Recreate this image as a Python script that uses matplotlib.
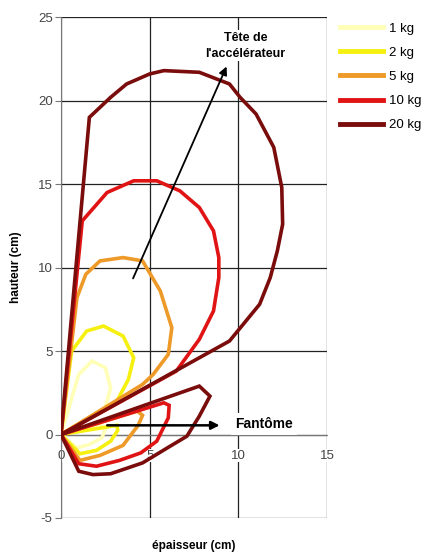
import matplotlib
matplotlib.use("Agg")
import matplotlib.pyplot as plt

plt.rcParams['font.family'] = ['Liberation Sans', 'DejaVu Sans']
plt.rcParams['axes.unicode_minus'] = False

labels = ["1 kg", "2 kg", "5 kg", "10 kg", "20 kg"]
colors = ["#FFFFB8", "#F5F010", "#EE9A28", "#E01414", "#7A0C0C"]

x_1kg = [0, 1.0, 1.75, 2.5, 2.8, 2.5, 0, 2.2, 2.5, 2.3, 1.6, 0.9, 0]
y_1kg = [0, 3.6, 4.4, 4.0, 2.8, 1.6, 0, 0.6, 0.3, -0.2, -0.6, -0.8, 0]

x_2kg = [0, 0.6, 1.45, 2.4, 3.5, 4.1, 3.8, 3.15, 0, 3.15, 3.2, 2.8, 2.0, 1.07, 0]
y_2kg = [0, 5.0, 6.2, 6.5, 5.9, 4.6, 3.3, 2.0, 0, 0.55, 0.25, -0.4, -0.95, -1.15, 0]

x_5kg = [0, 0.9, 1.4, 2.2, 3.5, 4.6, 5.6, 6.25, 6.05, 5.2, 4.6, 0, 4.3, 4.6, 4.35, 3.5, 2.2, 1.07, 0]
y_5kg = [0, 8.2, 9.6, 10.4, 10.6, 10.4, 8.6, 6.4, 4.8, 3.6, 3.0, 0, 1.4, 1.15, 0.55, -0.65, -1.25, -1.55, 0]

x_10kg = [0, 1.2, 2.6, 4.1, 5.4, 6.7, 7.8, 8.6, 8.9, 8.9, 8.6, 7.8, 6.5, 0, 5.8, 6.1, 6.05, 5.4, 4.5, 3.3, 2.0, 1.0, 0]
y_10kg = [0, 12.8, 14.5, 15.2, 15.2, 14.6, 13.6, 12.2, 10.6, 9.4, 7.4, 5.7, 3.8, 0, 1.9, 1.75, 1.0, -0.4, -1.1, -1.55, -1.9, -1.75, 0]

x_20kg = [0, 1.6, 2.8, 3.7, 5.0, 5.8, 7.8, 9.5, 10.1, 11.0, 12.0, 12.45, 12.5, 12.2, 11.8, 11.2, 9.5, 0,
          7.8, 8.4, 7.8, 7.1, 6.0, 4.6, 2.8, 1.8, 1.0, 0]
y_20kg = [0, 19.0, 20.2, 21.0, 21.6, 21.8, 21.7, 21.0, 20.2, 19.2, 17.2, 14.8, 12.6, 11.0, 9.4, 7.8, 5.6, 0,
          2.9, 2.3, 1.1, -0.1, -0.8, -1.7, -2.35, -2.4, -2.2, 0]

xs = [x_1kg, x_2kg, x_5kg, x_10kg, x_20kg]
ys = [y_1kg, y_2kg, y_5kg, y_10kg, y_20kg]

x_ticks = [0, 5, 10, 15]
y_ticks = [-5, 0, 5, 10, 15, 20, 25]

fig = plt.figure(figsize=(4.28, 5.55), dpi=100)
ax = fig.add_axes([0.1425, 0.0667, 0.6215, 0.9023])

for x, y, c, l in zip(xs, ys, colors, labels):
    ax.plot(x, y, color=c, lw=2.6, label=l, solid_joinstyle='miter', zorder=3)

ax.set_xlim(0, 15)
ax.set_ylim(-5, 25)
ax.set_xticks(x_ticks)
ax.set_yticks(y_ticks)
ax.grid(True, color='#222222', lw=0.9, zorder=0)
ax.set_axisbelow(True)

for s in ['top', 'right']:
    ax.spines[s].set_visible(False)
ax.spines['bottom'].set_position(('data', 0))
ax.spines['bottom'].set_color('#777777')
ax.spines['left'].set_color('#777777')
ax.spines['bottom'].set_zorder(1)

ax.tick_params(axis='y', direction='out', length=4, color='#777777', labelsize=9.5, labelcolor='#444444', pad=2)
ax.tick_params(axis='x', direction='out', length=0, labelsize=9.5, labelcolor='#444444', pad=11)
for t in ax.get_xticklabels():
    t.set_bbox(dict(facecolor='white', edgecolor='none', pad=0.5))

ax.set_ylabel("hauteur (cm)", fontsize=8.5, fontweight='bold', labelpad=18)
ax.yaxis.set_label_coords(-0.145, 0.5)
ax.text(7.5, -6.65, "épaisseur (cm)", fontsize=8.5, fontweight='bold', ha='center', va='center', clip_on=False)

# arrows
ax.annotate("", xy=(9.4, 22.2), xytext=(4.0, 9.2),
            arrowprops=dict(arrowstyle='-|>', color='black', lw=1.3, mutation_scale=12), zorder=5)
ax.annotate("", xy=(9.1, 0.55), xytext=(2.45, 0.55),
            arrowprops=dict(arrowstyle='-|>', color='black', lw=1.8, mutation_scale=12), zorder=5)

ax.text(10.4, 23.3, "Tête de\nl'accélérateur", fontsize=9, fontweight='bold', ha='center', va='center',
        linespacing=1.45, bbox=dict(facecolor='white', edgecolor='none', pad=1), zorder=6)
ax.text(9.8, 0.65, "Fantôme", fontsize=10, fontweight='bold', ha='left', va='center',
        bbox=dict(facecolor='white', edgecolor='none', pad=3), zorder=6)

leg = ax.legend(loc='upper left', bbox_to_anchor=(1.018, 1.005), frameon=False, fontsize=9.5,
                handlelength=3.3, labelspacing=0.9, handletextpad=0.45, borderaxespad=0.2)
for line in leg.get_lines():
    line.set_linewidth(3.5)

fig.savefig("out.png", dpi=100)
